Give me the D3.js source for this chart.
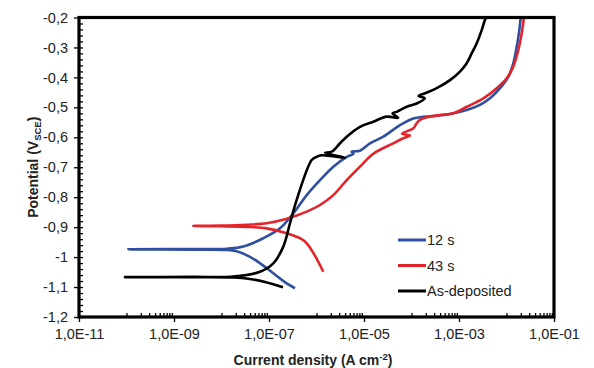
<!DOCTYPE html>
<html>
<head>
<meta charset="utf-8">
<script src="https://cdn.jsdelivr.net/npm/d3@7"></script>
<style>
  body { margin: 0; background: #fff; }
  text { font-family: "Liberation Sans", Arial, sans-serif; }
</style>
</head>
<body>
<div id="chart"></div>
<script>
/**
 * Potentiodynamic polarisation curves (E vs log i)
 */
const canvasWidth = 594;
const canvasHeight = 368;
const margin = { left: 79, right: 40, top: 17.5, bottom: 51 };

// data: [log10(current density), potential V_SCE]
const seriesNames = ["12 s", "43 s", "As-deposited"];
const seriesColors = ["#2f4f9f", "#e3242b", "#000000"];

const blue12s = [
  [-6.453, -1.104], [-6.627, -1.088], [-6.909, -1.054], [-7.15, -1.025], [-7.4, -0.999],
  [-7.7, -0.98], [-7.89, -0.976], [-8.6, -0.975], [-9.962, -0.974],
  [-8.6, -0.973], [-7.89, -0.972], [-7.541, -0.965], [-7.12, -0.937], [-6.768, -0.904],
  [-6.488, -0.854], [-6.206, -0.793], [-5.926, -0.743], [-5.646, -0.698], [-5.36, -0.665],
  [-5.22, -0.655], [-5.26, -0.648], [-5.084, -0.645], [-4.874, -0.62], [-4.594, -0.598],
  [-4.242, -0.559], [-3.962, -0.537], [-3.821, -0.533], [-3.541, -0.529], [-3.189, -0.522],
  [-2.838, -0.509], [-2.558, -0.492], [-2.347, -0.47], [-2.137, -0.436], [-1.962, -0.398],
  [-1.857, -0.353], [-1.785, -0.298], [-1.73, -0.242], [-1.701, -0.2]
];

const red43s = [
  [-5.857, -1.049], [-6.03, -0.996], [-6.206, -0.954], [-6.347, -0.937], [-6.627, -0.92],
  [-7.048, -0.904], [-7.469, -0.899], [-8.0, -0.897], [-8.594, -0.896],
  [-8.0, -0.895], [-7.469, -0.892], [-7.048, -0.887], [-6.627, -0.872], [-6.206, -0.848],
  [-5.926, -0.826], [-5.646, -0.793], [-5.364, -0.743], [-5.084, -0.698], [-4.804, -0.655],
  [-4.383, -0.62], [-4.173, -0.603], [-4.032, -0.594], [-4.2, -0.588], [-3.962, -0.57],
  [-3.891, -0.553], [-3.821, -0.542], [-3.68, -0.533], [-3.4, -0.526], [-3.12, -0.52],
  [-2.838, -0.498], [-2.488, -0.47], [-2.206, -0.436], [-1.996, -0.403], [-1.857, -0.364],
  [-1.752, -0.309], [-1.68, -0.253], [-1.632, -0.2]
];

const blackAsDep = [
  [-6.705, -1.101], [-7.084, -1.083], [-7.4, -1.073], [-7.758, -1.068], [-8.6, -1.067],
  [-10.032, -1.067], [-8.6, -1.066], [-7.758, -1.065], [-7.189, -1.049], [-6.909, -1.021],
  [-6.699, -0.965], [-6.558, -0.887], [-6.417, -0.809], [-6.101, -0.676], [-5.996, -0.665],
  [-5.9, -0.66], [-5.4, -0.668], [-5.82, -0.652], [-5.68, -0.648], [-5.505, -0.62],
  [-5.364, -0.598], [-5.084, -0.565], [-4.804, -0.548], [-4.522, -0.531], [-4.28, -0.535],
  [-4.4, -0.52], [-4.312, -0.515], [-4.101, -0.498], [-3.891, -0.487], [-3.72, -0.47],
  [-3.85, -0.462], [-3.716, -0.453], [-3.469, -0.436], [-3.189, -0.409], [-2.979, -0.381],
  [-2.838, -0.353], [-2.733, -0.32], [-2.627, -0.286], [-2.522, -0.242], [-2.453, -0.208],
  [-2.421, -0.2]
];

const xTickValues = [1e-11, 1e-9, 1e-7, 1e-5, 1e-3, 1e-1];
const xTickLabels = ["1,0E-11", "1,0E-09", "1,0E-07", "1,0E-05", "1,0E-03", "1,0E-01"];
const yTickValues = [-0.2, -0.3, -0.4, -0.5, -0.6, -0.7, -0.8, -0.9, -1.0, -1.1, -1.2];
const yTickLabels = ["-0,2", "-0,3", "-0,4", "-0,5", "-0,6", "-0,7", "-0,8", "-0,9", "-1", "-1,1", "-1,2"];

const svg = d3.select("#chart")
  .append("svg")
  .attr("width", canvasWidth)
  .attr("height", canvasHeight)
  .style("background", "#fff");

const xScale = d3.scaleLog()
  .domain([1e-11, 1e-1])
  .range([margin.left, canvasWidth - margin.right]);

const yScale = d3.scaleLinear()
  .domain([-1.2, -0.2])
  .range([canvasHeight - margin.bottom, margin.top]);

const bottom = canvasHeight - margin.bottom;

// minor ticks (inside)
const xMinor = [];
[-10, -8, -6, -4, -2].forEach(function(p) {
  for (let k = 1; k <= 9; k++) xMinor.push(k * Math.pow(10, p));
});
svg.append("g")
  .attr("transform", "translate(0," + bottom + ")")
  .call(d3.axisTop(xScale).tickValues(xMinor).tickSize(4).tickFormat(""))
  .call(g => g.select(".domain").remove())
  .selectAll("line").attr("stroke-width", 1.3);

const yMinor = d3.range(0, 51).map(i => -1.2 + i * 0.02);
svg.append("g")
  .attr("transform", "translate(" + margin.left + ",0)")
  .call(d3.axisRight(yScale).tickValues(yMinor).tickSize(4).tickFormat(""))
  .call(g => g.select(".domain").remove())
  .selectAll("line").attr("stroke-width", 1.3);

// major axes
const xAxis = svg.append("g")
  .attr("transform", "translate(0," + bottom + ")")
  .call(d3.axisBottom(xScale).tickValues(xTickValues).tickSize(5).tickPadding(7)
    .tickFormat((d, i) => xTickLabels[i]));
xAxis.select(".domain").remove();
xAxis.selectAll("line").attr("stroke-width", 1.3);
xAxis.selectAll("text")
  .style("font-size", "14.5px")
  .attr("fill", "#222");

const yAxis = svg.append("g")
  .attr("transform", "translate(" + margin.left + ",0)")
  .call(d3.axisLeft(yScale).tickValues(yTickValues).tickSize(5).tickPadding(6)
    .tickFormat((d, i) => yTickLabels[i]));
yAxis.select(".domain").remove();
yAxis.selectAll("line").attr("stroke-width", 1.3);
yAxis.selectAll("text")
  .style("font-size", "14.5px")
  .attr("fill", "#222");

// curves, smoothed a little like the scanned plot
const line = d3.line()
  .x(d => xScale(Math.pow(10, d[0])))
  .y(d => yScale(d[1]))
  .curve(d3.curveCatmullRom.alpha(0.5));

const allSeries = [blue12s, red43s, blackAsDep];
allSeries.forEach(function(data, i) {
  svg.append("path")
    .datum(data)
    .attr("fill", "none")
    .attr("stroke", seriesColors[i])
    .attr("stroke-width", 2.6)
    .attr("stroke-linejoin", "round")
    .attr("d", line);
});

// plot frame
svg.append("rect")
  .attr("x", margin.left)
  .attr("y", margin.top)
  .attr("width", canvasWidth - margin.right - margin.left)
  .attr("height", bottom - margin.top)
  .attr("fill", "none")
  .attr("stroke", "#000")
  .attr("stroke-width", 3.2);

// legend
const legend = svg.append("g");
seriesNames.forEach(function(name, i) {
  const y = 240 + i * 25.5;
  legend.append("line")
    .attr("x1", 398).attr("x2", 426)
    .attr("y1", y).attr("y2", y)
    .attr("stroke", seriesColors[i])
    .attr("stroke-width", 3);
  legend.append("text")
    .attr("x", 427)
    .attr("y", y + 5)
    .style("font-size", "14.5px")
    .attr("fill", "#222")
    .text(name);
});

// axis titles
const yTitle = svg.append("text")
  .attr("transform", "translate(38," + (margin.top + bottom) / 2 + ") rotate(-90)")
  .attr("text-anchor", "middle")
  .style("font-size", "14px")
  .style("font-weight", "bold")
  .attr("fill", "#222");
yTitle.append("tspan").text("Potential (V");
yTitle.append("tspan").attr("font-size", "9.5px").attr("dy", 3).text("SCE");
yTitle.append("tspan").attr("dy", -3).text(")");

const xTitle = svg.append("text")
  .attr("x", 313)
  .attr("y", 365)
  .attr("text-anchor", "middle")
  .style("font-size", "14px")
  .style("font-weight", "bold")
  .attr("fill", "#222");
xTitle.append("tspan").text("Current density (A cm");
xTitle.append("tspan").attr("font-size", "9.5px").attr("dy", -5).text("-2");
xTitle.append("tspan").attr("dy", 5).text(")");
</script>
</body>
</html>
